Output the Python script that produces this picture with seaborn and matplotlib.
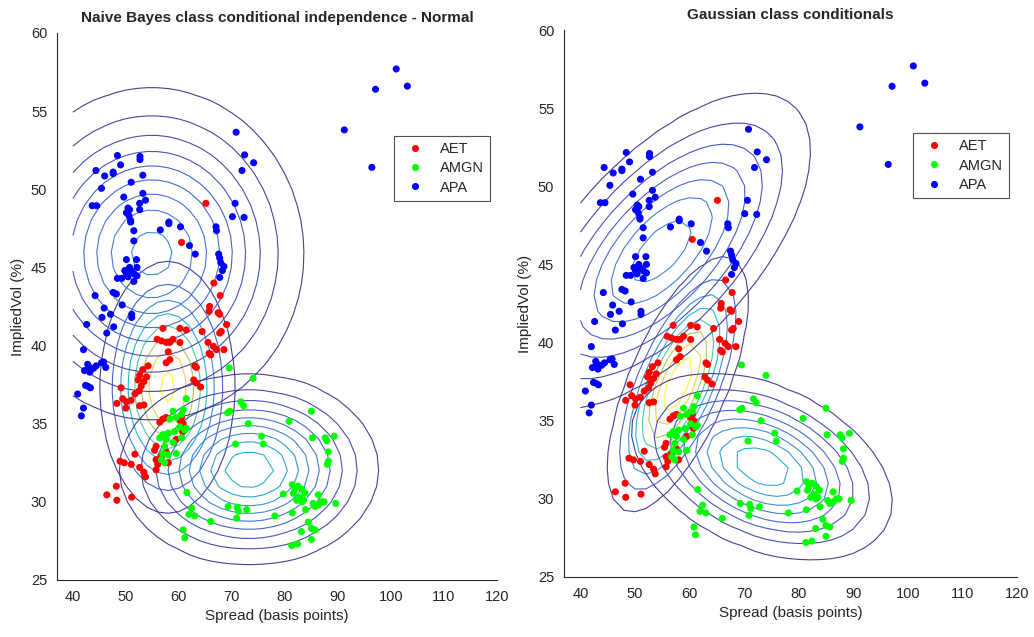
import numpy as np
import pandas as pd
import seaborn as sns
from matplotlib import pyplot as plt
from matplotlib.colors import LinearSegmentedColormap, Normalize
from matplotlib.ticker import MaxNLocator

# values (spread in bp, implied vol in %)
apa_spread = [101.0, 97.1, 103.1, 91.2, 96.4, 70.8, 72.4, 74.1, 71.9, 70.6, 70.1, 72.3,
              48.4, 44.35, 49.0, 47.6, 47.6, 46.0, 45.4, 52.66, 52.66, 53.2, 51.0, 43.65,
              44.5, 49.6, 53.2, 53.7, 52.6, 52.6, 50.4, 50.7, 50.1, 50.6, 50.9, 50.9,
              51.5, 51.5, 56.5, 58.1, 58.1, 60.3, 62.0, 63.1, 67.0, 67.1, 67.5, 67.7,
              67.9, 68.5, 68.2, 67.7, 50.1, 52.0, 50.7, 49.8, 52.1, 51.1, 51.6, 52.1,
              48.4, 49.2, 50.1, 50.4, 51.5, 47.6, 48.2, 44.2, 49.3, 45.9, 45.5, 47.1,
              51.1, 51.1, 42.6, 47.7, 46.4, 42.0, 42.2, 43.0, 43.2, 43.9, 44.4, 45.4,
              45.8, 46.2, 42.8, 42.4, 43.3, 42.8, 40.9, 42.0, 41.6]
apa_vol = [57.7, 56.4, 56.6, 53.8, 51.4, 53.65, 52.2, 51.7, 51.2, 49.1, 48.25, 48.2,
           52.16, 51.2, 51.56, 51.1, 51.0, 50.85, 50.06, 52.1, 51.9, 50.9, 50.45, 48.95,
           48.95, 49.5, 49.74, 49.3, 49.1, 48.7, 48.8, 48.7, 48.5, 48.3, 48.0, 47.9,
           47.35, 46.7, 47.4, 47.9, 47.8, 47.6, 46.4, 45.85, 47.6, 47.35, 45.85, 45.6,
           45.3, 45.06, 44.8, 44.36, 45.5, 45.5, 45.0, 44.8, 45.0, 44.75, 44.57, 44.46,
           44.3, 44.3, 44.6, 44.4, 44.1, 43.4, 43.3, 43.2, 42.6, 42.4, 41.8, 42.0,
           42.0, 41.8, 41.35, 41.2, 40.8, 39.74, 38.4, 38.65, 38.3, 38.55, 38.7, 38.9,
           38.95, 38.6, 38.8, 37.45, 37.3, 37.4, 36.9, 36.0, 35.5]

aet_spread = [65.1, 60.5, 66.6, 67.8, 65.8, 65.7, 67.4, 67.7, 69.0, 68.0, 67.7, 64.4,
              61.4, 60.2, 57.0, 55.9, 56.7, 57.6, 58.3, 60.2, 58.9, 58.0, 58.3, 57.6,
              65.5, 66.5, 67.1, 68.5, 65.7, 66.0, 63.0, 63.3, 62.8, 63.3, 64.1, 54.2,
              53.2, 52.6, 53.9, 52.3, 53.4, 52.9, 52.5, 51.7, 51.0, 50.1, 49.4, 48.3,
              50.0, 52.6, 53.4, 49.1, 56.4, 57.0, 57.6, 60.5, 60.8, 60.2, 60.7, 59.5,
              55.7, 55.4, 57.6, 58.0, 55.7, 56.7, 51.7, 48.9, 49.7, 51.0, 52.6, 53.4,
              53.7, 55.7, 56.0, 46.4, 48.2, 48.3, 51.1]
aet_vol = [49.1, 46.6, 44.0, 43.2, 42.5, 42.2, 42.1, 42.0, 41.35, 40.9, 40.8, 40.9,
           41.0, 41.1, 41.1, 40.4, 40.3, 40.2, 40.2, 40.2, 40.4, 39.6, 39.1, 38.9,
           40.2, 39.95, 39.74, 39.74, 39.5, 39.4, 38.7, 38.6, 37.8, 37.6, 37.35, 38.7,
           38.46, 38.1, 38.0, 37.8, 37.7, 37.4, 37.1, 36.9, 36.5, 36.4, 36.6, 36.3,
           36.0, 36.15, 36.2, 37.3, 35.1, 35.3, 35.4, 35.4, 35.0, 35.2, 34.5, 34.0,
           33.55, 33.3, 33.2, 32.5, 32.7, 32.9, 33.05, 32.6, 32.5, 32.4, 32.2, 31.9,
           31.6, 32.05, 32.4, 30.45, 31.0, 30.1, 30.3]

amgn_spread = [69.5, 74.0, 71.7, 72.2, 69.2, 69.6, 73.1, 75.6, 75.9, 70.7, 80.8, 85.0,
               85.2, 87.6, 87.9, 89.3, 88.2, 88.2, 88.0, 61.4, 60.8, 58.9, 60.5, 59.5,
               58.3, 60.2, 61.1, 59.2, 58.0, 57.0, 56.4, 57.6, 58.9, 57.3, 57.0, 58.0,
               59.5, 56.7, 57.3, 60.5, 61.4, 61.5, 62.4, 61.9, 63.0, 60.8, 61.1, 66.0,
               69.3, 71.0, 71.2, 70.9, 72.8, 78.1, 79.7, 81.4, 81.9, 82.5, 83.2, 81.6,
               82.8, 83.5, 83.8, 82.2, 83.2, 81.4, 83.9, 86.3, 85.3, 86.3, 86.9, 87.4,
               85.7, 89.6, 84.4, 85.0, 85.7, 83.1, 85.0, 81.3, 82.4]
amgn_vol = [38.57, 37.9, 36.4, 36.15, 35.7, 35.8, 35.0, 34.2, 33.7, 33.7, 35.15, 35.8,
            34.1, 34.1, 33.9, 34.2, 33.2, 32.6, 32.4, 36.6, 35.9, 35.8, 35.6, 35.4,
            35.3, 34.8, 34.6, 34.5, 34.4, 34.3, 34.1, 34.0, 33.8, 33.55, 33.1, 33.0,
            33.1, 32.7, 32.5, 34.1, 34.7, 30.6, 29.6, 29.2, 29.1, 28.2, 27.7, 28.75,
            29.7, 29.65, 29.4, 28.95, 29.5, 29.1, 30.5, 31.1, 30.8, 31.0, 30.8, 30.55,
            30.3, 30.1, 30.55, 30.1, 30.0, 29.3, 29.5, 30.45, 29.9, 29.8, 30.0, 30.0,
            29.7, 29.9, 28.7, 28.3, 28.2, 28.1, 27.6, 27.2, 27.3]

stocks = ['AET', 'AMGN', 'APA']
colors = {'AET': '#ff0000', 'AMGN': '#00ff00', 'APA': '#0000ff'}
# how far up the colormap each class's innermost ring goes
peak_shade = {'AET': 1.0, 'AMGN': 0.4, 'APA': 0.27}

df = pd.concat([
    pd.DataFrame({'Spread': aet_spread, 'ImpliedVol': aet_vol, 'Stock': 'AET'}),
    pd.DataFrame({'Spread': amgn_spread, 'ImpliedVol': amgn_vol, 'Stock': 'AMGN'}),
    pd.DataFrame({'Spread': apa_spread, 'ImpliedVol': apa_vol, 'Stock': 'APA'}),
], ignore_index=True)

sns.set_style('white')
plt.rcParams['font.family'] = ['Liberation Sans', 'DejaVu Sans']

parula = LinearSegmentedColormap.from_list('parula', [
    (0.2081, 0.1663, 0.5292), (0.2100, 0.2800, 0.7400), (0.1900, 0.4300, 0.8400),
    (0.1300, 0.5800, 0.8500), (0.0500, 0.6900, 0.7900), (0.1938, 0.7600, 0.6251),
    (0.5044, 0.7900, 0.3480), (0.8634, 0.7406, 0.1596), (0.9892, 0.8136, 0.1885),
    (0.9769, 0.9839, 0.0805)])

gx, gy = np.meshgrid(np.linspace(40, 120, 41), np.linspace(25, 60, 36))


def gauss_density(sub, full):
    x = sub['Spread'].values
    y = sub['ImpliedVol'].values
    mu = np.array([x.mean(), y.mean()])
    cov = np.cov(x, y)
    if not full:
        cov = np.diag(np.diag(cov))
    inv = np.linalg.inv(cov)
    dx = gx - mu[0]
    dy = gy - mu[1]
    q = inv[0, 0] * dx * dx + 2 * inv[0, 1] * dx * dy + inv[1, 1] * dy * dy
    return np.exp(-0.5 * q) / (2 * np.pi * np.sqrt(np.linalg.det(cov)))


def draw_panel(ax, full, title, legend_anchor):
    for s in stocks:
        z = gauss_density(df[df['Stock'] == s], full)
        lv = MaxNLocator(nbins=10).tick_values(0, z.max())
        lv = lv[(lv > 0) & (lv < z.max())]
        norm = Normalize(vmin=lv.min(), vmax=lv.min() + (lv.max() - lv.min()) / peak_shade[s])
        ax.contour(gx, gy, z, levels=lv, cmap=parula, norm=norm, linewidths=0.8,
                   alpha=0.9, zorder=2)

    sns.scatterplot(data=df, x='Spread', y='ImpliedVol', hue='Stock', hue_order=stocks,
                    palette=colors, s=26, edgecolor='none', ax=ax, zorder=3)

    ax.set_xlim(37, 120)
    ax.set_ylim(25, 60)
    ax.set_xticks(range(40, 121, 10))
    ax.set_yticks(range(25, 61, 5))
    ax.tick_params(direction='in', length=4, labelsize=10.5, colors='#262626', pad=7)
    sns.despine(ax=ax)
    for sp in ['left', 'bottom']:
        ax.spines[sp].set_color('#262626')
        ax.spines[sp].set_linewidth(0.8)
    ax.set_xlabel('Spread (basis points)', fontsize=11, color='#262626')
    ax.set_ylabel('ImpliedVol (%)', fontsize=11, color='#262626')
    ax.set_title(title, fontsize=11, fontweight='bold', pad=8)

    h, l = ax.get_legend_handles_labels()
    leg = ax.legend(h, l, loc='upper left', bbox_to_anchor=legend_anchor, borderaxespad=0,
                    fontsize=10.5, frameon=True, fancybox=False, edgecolor='#262626',
                    handlelength=2.0, handletextpad=0.7, borderpad=0.45, labelspacing=0.35)
    leg.get_frame().set_linewidth(0.8)


fig = plt.figure(figsize=(10.34, 6.37), dpi=100)
ax1 = fig.add_axes([0.0551, 0.0895, 0.4255, 0.8587])
ax2 = fig.add_axes([0.5455, 0.0942, 0.4381, 0.8587])

draw_panel(ax1, False, 'Naive Bayes class conditional independence - Normal', (0.766, 0.812))
draw_panel(ax2, True, 'Gaussian class conditionals', (0.770, 0.812))

fig.savefig('out.png', dpi=100)
